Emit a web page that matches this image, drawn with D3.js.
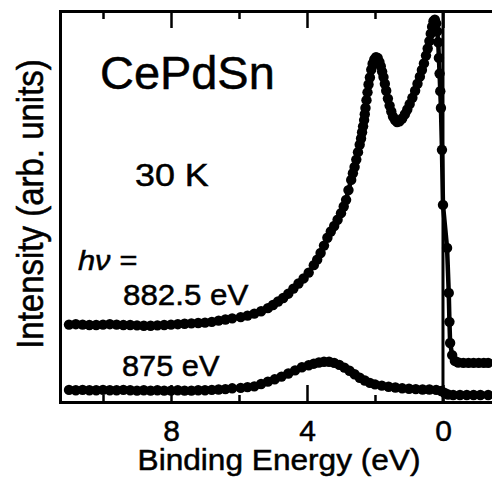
<!DOCTYPE html>
<html lang="en">
  <head>
    <meta charset="UTF-8" />
    <title>CePdSn 30 K</title>
    <style>
      * {
        box-sizing: border-box;
        margin: 0;
        padding: 0;
      }
      body {
        background: #fff;
      }
      svg {
        display: block;
      }
      text {
        font-family: "Liberation Sans", Arial, Helvetica, sans-serif;
        fill: #000;
        stroke: #000;
        stroke-width: 0.5px;
      }
    </style>
  </head>
  <body>
    <svg id="chart"></svg>

    <script src="https://cdn.jsdelivr.net/npm/d3@7"></script>
    <script>
      // spectrum taken with hv = 882.5 eV (binding energy in eV, intensity arb. units)
      const energy882 = [
        11.0, 10.8, 10.6, 10.4, 10.2, 10.0, 9.8, 9.6, 9.4, 9.2, 9.0, 8.8, 8.6,
        8.4, 8.2, 8.0, 7.8, 7.6, 7.4, 7.2, 7.0, 6.8, 6.6, 6.4, 6.2, 5.95, 5.75,
        5.55, 5.35, 5.15, 5.0, 4.85, 4.7, 4.55, 4.4, 4.25, 4.1, 3.95, 3.8, 3.7,
        3.6, 3.5, 3.4, 3.3, 3.2, 3.1, 3.0, 2.92, 2.85, 2.78, 2.7, 2.65, 2.6,
        2.55, 2.5, 2.45, 2.41, 2.38, 2.35, 2.32, 2.3, 2.28, 2.25, 2.22, 2.19,
        2.15, 2.11, 2.07, 2.02, 1.97, 1.92, 1.87, 1.83, 1.79, 1.75, 1.71, 1.67,
        1.62, 1.57, 1.52, 1.47, 1.41, 1.35, 1.28, 1.2, 1.12, 1.05, 0.98, 0.9,
        0.82, 0.75, 0.68, 0.62, 0.56, 0.5, 0.45, 0.4, 0.36, 0.32, 0.28, 0.24,
        0.2, 0.17, 0.14, 0.12, 0.1, 0.08, 0.06, 0.03, 0.0, -0.12, -0.17, -0.19,
        -0.21, -0.27, -0.35, -0.45, -0.6, -0.75, -0.9, -1.05, -1.2, -1.33,
      ];
      const intensity882 = [
        19.8, 19.9, 19.8, 19.7, 19.7, 19.8, 19.9, 19.8, 19.7, 19.7, 19.6, 19.5,
        19.5, 19.6, 19.7, 19.8, 19.9, 20.0, 20.1, 20.2, 20.3, 20.5, 20.8, 21.1,
        21.4, 21.7, 22.1, 22.6, 23.2, 24.0, 24.8, 25.7, 26.6, 27.7, 29.0, 30.3,
        31.6, 33.1, 35.0, 36.4, 38.1, 40.0, 42.0, 43.6, 45.0, 46.6, 48.3, 50.0,
        51.7, 54.2, 56.8, 58.5, 60.1, 62.0, 63.9, 65.8, 67.4, 69.0, 70.5, 72.1,
        73.6, 75.2, 77.2, 79.2, 81.2, 83.0, 85.0, 86.5, 87.6, 88.2, 88.0, 87.0,
        85.9, 84.5, 83.1, 81.4, 79.6, 77.6, 75.8, 74.3, 73.0, 72.1, 71.6, 71.8,
        72.5, 73.6, 74.8, 76.2, 77.8, 79.6, 81.4, 83.2, 84.9, 86.6, 88.6, 90.4,
        92.3, 94.2, 96.0, 97.4, 97.8, 96.8, 94.8, 92.0, 88.0, 84.0, 79.5, 75.2,
        64.5, 50.4, 39.4, 27.9, 20.5, 15.1, 12.0, 10.5, 10.1, 10.0, 10.0, 10.0,
        10.0, 10.0, 10.0,
      ];

      // spectrum taken with hv = 875 eV
      const energy875 = [
        11.0, 10.8, 10.6, 10.4, 10.2, 10.0, 9.8, 9.6, 9.4, 9.2, 9.0, 8.8, 8.6,
        8.4, 8.2, 8.0, 7.8, 7.6, 7.4, 7.2, 7.0, 6.8, 6.6, 6.4, 6.2, 5.95, 5.75,
        5.55, 5.35, 5.15, 4.95, 4.75, 4.55, 4.35, 4.15, 3.95, 3.8, 3.65, 3.5,
        3.35, 3.2, 3.05, 2.9, 2.75, 2.6, 2.45, 2.3, 2.15, 2.0, 1.8, 1.6, 1.4,
        1.2, 1.0, 0.8, 0.6, 0.4, 0.2, 0.05, -0.05, -0.15, -0.3, -0.5, -0.7, -0.9,
        -1.1, -1.33,
      ];
      const intensity875 = [
        3.1, 3.0, 3.1, 3.0, 3.0, 3.1, 3.0, 3.0, 3.1, 3.0, 2.9, 3.0, 2.9, 3.0,
        2.9, 2.9, 3.0, 2.9, 2.9, 3.0, 3.0, 3.1, 3.2, 3.3, 3.5, 3.6, 3.8, 4.0,
        4.6, 5.2, 5.8, 6.5, 7.3, 8.1, 8.9, 9.4, 9.8, 10.1, 10.3, 10.3, 10.0, 9.5,
        8.8, 8.0, 7.1, 6.2, 5.5, 4.9, 4.5, 4.2, 3.9, 3.7, 3.5, 3.4, 3.3, 3.2,
        3.2, 3.1, 2.8, 2.3, 1.9, 1.8, 1.8, 1.8, 1.8, 1.8, 1.8,
      ];

      // axis ticks
      const majorTicks = [8, 4, 0];
      const minorTicks = [10, 6, 2];
      const fermiLevel = 0;

      // picture size and plot frame
      const width = 492;
      const height = 477;
      const frame = { left: 60, top: 11, bottom: 402, right: 495 };

      const svg = d3
        .select("#chart")
        .attr("width", width)
        .attr("height", height);

      // binding energy runs from right to left
      const x = d3
        .scaleLinear()
        .domain([11.265, -1.53])
        .range([frame.left, frame.right]);
      const y = d3
        .scaleLinear()
        .domain([0, 100])
        .range([frame.bottom, frame.top]);

      // frame lines and ticks (all ticks point inward)
      const axisStyle = (g) => {
        g.select(".domain").attr("stroke-width", 3);
        g.selectAll(".tick line").attr("stroke-width", 2.5);
      };

      svg
        .append("g")
        .attr("transform", `translate(0,${frame.bottom})`)
        .call(d3.axisBottom(x).tickValues(minorTicks).tickSize(-7).tickFormat(""))
        .call(axisStyle);
      const bottomAxis = svg
        .append("g")
        .attr("transform", `translate(0,${frame.bottom})`)
        .call(
          d3
            .axisBottom(x)
            .tickValues(majorTicks)
            .tickSizeInner(-17)
            .tickSizeOuter(0)
            .tickFormat(d3.format("d"))
        )
        .call(axisStyle);
      bottomAxis
        .selectAll(".tick text")
        .attr("y", 39)
        .attr("dy", 0)
        .style("font-size", "30px");

      svg
        .append("g")
        .attr("transform", `translate(0,${frame.top})`)
        .call(d3.axisTop(x).tickValues(minorTicks).tickSize(-8).tickFormat(""))
        .call(axisStyle);
      svg
        .append("g")
        .attr("transform", `translate(0,${frame.top})`)
        .call(
          d3
            .axisTop(x)
            .tickValues(majorTicks)
            .tickSizeInner(-17)
            .tickSizeOuter(0)
            .tickFormat("")
        )
        .call(axisStyle);

      svg
        .append("g")
        .attr("transform", `translate(${frame.left},0)`)
        .call(d3.axisLeft(y).tickValues([]).tickSizeOuter(0))
        .call(axisStyle);

      svg.selectAll(".domain").attr("stroke", "#000");
      svg.selectAll(".tick line").attr("stroke", "#000");

      // Fermi level line
      svg
        .append("line")
        .attr("x1", x(fermiLevel))
        .attr("x2", x(fermiLevel))
        .attr("y1", frame.top)
        .attr("y2", frame.bottom)
        .attr("stroke", "#000")
        .attr("stroke-width", 3);

      // the two spectra: line with filled dots
      const line = d3
        .line()
        .x((d) => x(d[0]))
        .y((d) => y(d[1]));

      const spectra = [d3.zip(energy882, intensity882), d3.zip(energy875, intensity875)];

      spectra.forEach((points) => {
        svg
          .append("path")
          .datum(points)
          .attr("d", line)
          .attr("fill", "none")
          .attr("stroke", "#000")
          .attr("stroke-width", 4.5)
          .attr("stroke-linejoin", "round");
        svg
          .append("g")
          .selectAll("circle")
          .data(points)
          .enter()
          .append("circle")
          .attr("cx", (d) => x(d[0]))
          .attr("cy", (d) => y(d[1]))
          .attr("r", 5.2)
          .attr("fill", "#000");
      });

      // labels
      const label = (txt, px, py, size, sx, extra) => {
        const t = svg
          .append("text")
          .attr("transform", `translate(${px},${py}) scale(${sx},1)`)
          .style("font-size", size + "px")
          .text(txt);
        if (extra) extra(t);
        return t;
      };

      label("CePdSn", 100, 89, 46, 1.02);
      label("30 K", 135, 186, 32, 1.12);
      label("hν =", 78, 270, 28, 1.1, (t) => t.style("font-style", "italic"));
      label("882.5 eV", 123, 305, 29, 1.08);
      label("875 eV", 122, 376, 29, 1.06);

      // axis titles
      label("Binding Energy (eV)", 279, 470, 29, 1.09, (t) =>
        t.attr("text-anchor", "middle")
      );
      svg
        .append("text")
        .attr("transform", "translate(43,204) scale(1.1,1) rotate(-90)")
        .attr("text-anchor", "middle")
        .style("font-size", "33px")
        .text("Intensity (arb. units)");
    </script>
  </body>
</html>
